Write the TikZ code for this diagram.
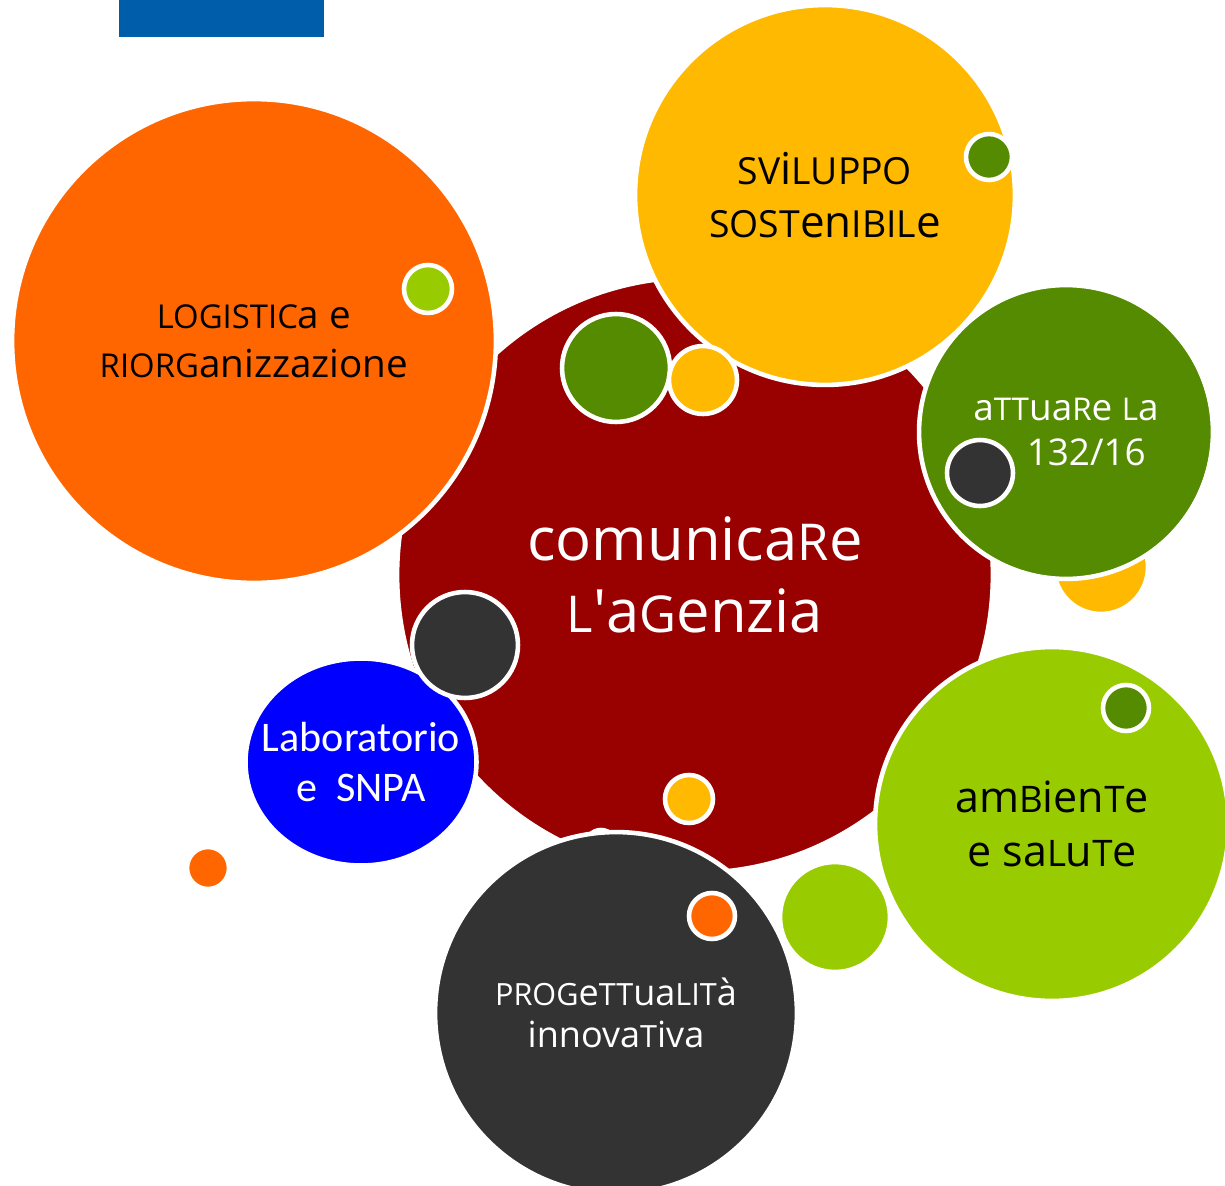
\documentclass[tikz,border=0pt]{standalone}
\usepackage{fontspec}
\setmainfont{Open Sans}
\newfontfamily\calibri{Carlito}
\usetikzlibrary{shapes.geometric}
% Colori
\definecolor{rossoscuro}{HTML}{990000}
\definecolor{arancio}{HTML}{FF6600}
\definecolor{giallo}{HTML}{FFB900}
\definecolor{verde}{HTML}{558B00}
\definecolor{verdechiaro}{HTML}{99CC00}
\definecolor{grigio}{HTML}{333333}
\definecolor{blu}{HTML}{0000FF}
\definecolor{bluscuro}{HTML}{005DAA}
% Lettere "unicase"
\newcommand{\uc}[1]{\scalebox{0.85}{#1}}
\begin{document}
\begin{tikzpicture}[x=0.02cm, y=-0.02cm, line join=round, line cap=round,
  bolla/.style={circle, draw=white, line width=2.6pt, inner sep=0pt, fill=#1, align=center},
  raggio/.style={minimum size=#1*0.04cm}]
  \useasboundingbox (0,0) rectangle (1225,1186);
  % Rettangolo blu in alto
  \fill[bluscuro] (119,0) rectangle (324,37);
  % Bolla gialla dietro la verde
  \node[bolla=giallo, raggio=47] (gB) at (1101,567) {};
  % Bolla centrale
  \node[bolla=rossoscuro, raggio=298, text=white, font=\fontsize{34}{41}\selectfont] (centro) at (695,575)
    {comunica\uc{R}e\\\uc{L}\textquotesingle a\uc{G}enzia};
  \node[bolla=arancio, raggio=15] (oH) at (601,845) {};
  % Bolle dei temi
  \node[bolla=arancio, raggio=242, font=\fontsize{22}{28}\selectfont] (logistica) at (254,341)
    {\uc{LOGISTIC}a e\\\uc{RIORG}anizzazione};
  \node[bolla=giallo, raggio=190, font=\fontsize{25}{30}\selectfont] (sviluppo) at (825,195)
    {\uc{SV}i\uc{LUPPO}\\\uc{SOST}en\uc{IBIL}e};
  \node[bolla=verde, raggio=147, text=white, font=\fontsize{21}{25.5}\selectfont] (attuare) at (1066,432)
    {a\uc{TT}ua\uc{R}e \uc{L}a\\\hspace*{1.1em}132/16};
  \node[bolla=verdechiaro, raggio=177, font=\fontsize{24.5}{31}\selectfont] (ambiente) at (1052,824)
    {am\uc{B}ien\uc{T}e\\e sa\uc{L}u\uc{T}e};
  \node[bolla=grigio, raggio=181, text=white, font=\fontsize{20.5}{24}\selectfont] (progetti) at (616,1013)
    {\uc{PROG}e\uc{TT}ua\uc{LIT}à\\innova\uc{T}iva};
  \node[ellipse, draw=white, line width=2.6pt, fill=blu, inner sep=0pt,
    minimum width=231*0.02cm, minimum height=207*0.02cm] (laboratorio) at (361,762) {};
  \node[text=white, align=center, font=\calibri\fontsize{24}{28.5}\selectfont]
    (labtesto) at (laboratorio.center) {Laboratorio\\e\ \ SNPA};
  % Bolle piccole
  \node[bolla=grigio, raggio=53] (gA) at (465,645) {};
  \node[bolla=verde, raggio=54] (vA) at (616,368) {};
  \node[bolla=giallo, raggio=34] (yA) at (703,380) {};
  \node[bolla=verdechiaro, raggio=24] (lA) at (428,289) {};
  \node[bolla=verde, raggio=23] (vB) at (989,157) {};
  \node[bolla=grigio, raggio=33] (gC) at (980,473) {};
  \node[bolla=verde, raggio=23] (vC) at (1126,708) {};
  \node[bolla=giallo, raggio=24] (yC) at (689,799) {};
  \node[bolla=arancio, raggio=23] (oA) at (712,916) {};
  \node[bolla=verdechiaro, raggio=55] (lB) at (835,917) {};
  \node[bolla=arancio, raggio=21] (oB) at (208,868) {};
\end{tikzpicture}
\end{document}
